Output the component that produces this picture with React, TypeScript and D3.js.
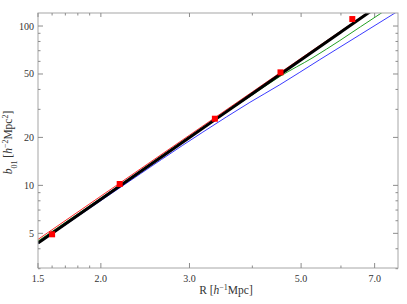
import React from "react";
import * as d3 from "d3";

const W = 407;
const H = 304;

// Tick values
const xMajor = [1.5, 2.0, 3.0, 5.0, 7.0];
const xMinor = [1.6, 1.7, 1.8, 1.9, 4.0, 6.0];
const yMajor = [5, 10, 20, 50, 100];
const yMinor = [3, 4, 6, 7, 8, 9, 30, 40, 60, 70, 80, 90];

// Curves
const lineR = [1.5, 2, 3, 4, 5, 6, 7];
const blackB = [4.35, 8.19, 19.99, 37.6, 61.5, 91.8, 128.8];
const redB = [4.58, 8.56, 20.66, 38.6, 62.8, 93.2, 130.3];

const greenR = [1.5, 2.183, 3.147, 3.956, 4.536, 5.28, 5.97, 7.22, 7.79];
const greenB = [4.47, 10.05, 22.4, 36.1, 48.2, 63.4, 81.1, 120.7, 140.0];

const blueR = [1.5, 2.183, 3.19, 3.956, 4.536, 5.45, 6.54, 7.79];
const blueB = [4.31, 9.68, 21.6, 33.2, 42.8, 61.6, 88.0, 124.0];

// Data points
const ptR = [1.6, 2.18, 3.37, 4.55, 6.32];
const ptB = [4.93, 10.2, 26.2, 51.2, 110.6];

const L = 38, R = 398, T = 13, B = 268;

export default function App() {
  const x = d3.scaleLog().domain([1.5, 7.79]).range([L, R]);
  const y = d3.scaleLog().domain([3.03, 120.7]).range([B, T]);

  const mk = (xs: number[], ys: number[]) =>
    d3
      .line<number>()
      .x((_, i) => x(xs[i]))
      .y((_, i) => y(ys[i]))
      .curve(d3.curveMonotoneX)(xs) || "";

  const frame = "#a6a6a6";
  const tickCol = "#8c8c8c";
  const font = "'Liberation Serif', 'DejaVu Serif', serif";

  return (
    <svg
      width={W}
      height={H}
      style={{ position: "absolute", left: 0, top: 0, background: "#fff" }}
    >
      <defs>
        <clipPath id="plotclip">
          <rect x={L} y={T} width={R - L} height={B - T} />
        </clipPath>
      </defs>
      <g clipPath="url(#plotclip)" fill="none">
        <path d={mk(blueR, blueB)} stroke="#3b3bff" strokeWidth={1} />
        <path d={mk(greenR, greenB)} stroke="#22a022" strokeWidth={1} />
        <path d={mk(lineR, redB)} stroke="#ff2a2a" strokeWidth={1} />
        <path d={mk(lineR, blackB)} stroke="#000" strokeWidth={3} />
      </g>
      {/* frame */}
      <rect x={L} y={T} width={R - L} height={B - T} fill="none" stroke={frame} strokeWidth={1} />
      {/* x ticks */}
      {xMajor.map((v) => (
        <g key={"xm" + v}>
          <line x1={x(v)} x2={x(v)} y1={B} y2={B - 5} stroke={tickCol} />
          <line x1={x(v)} x2={x(v)} y1={T} y2={T + 4} stroke={tickCol} />
          <text x={x(v)} y={B + 14} textAnchor="middle" fontFamily={font} fontSize={10} fill="#333">
            {v.toFixed(1)}
          </text>
        </g>
      ))}
      {xMinor.map((v) => (
        <g key={"xn" + v}>
          <line x1={x(v)} x2={x(v)} y1={B} y2={B - 2.5} stroke={tickCol} />
          <line x1={x(v)} x2={x(v)} y1={T} y2={T + 2.5} stroke={tickCol} />
        </g>
      ))}
      {/* y ticks */}
      {yMajor.map((v) => (
        <g key={"ym" + v}>
          <line x1={L} x2={L + 5} y1={y(v)} y2={y(v)} stroke={tickCol} />
          <line x1={R} x2={R - 5} y1={y(v)} y2={y(v)} stroke={tickCol} />
          <text x={L - 4} y={y(v) + 3.5} textAnchor="end" fontFamily={font} fontSize={10} fill="#333">
            {v}
          </text>
        </g>
      ))}
      {yMinor.map((v) => (
        <g key={"yn" + v}>
          <line x1={L} x2={L + 2.5} y1={y(v)} y2={y(v)} stroke={tickCol} />
          <line x1={R} x2={R - 2.5} y1={y(v)} y2={y(v)} stroke={tickCol} />
        </g>
      ))}
      {/* markers */}
      {ptR.map((v, i) => (
        <rect key={"p" + i} x={x(v) - 3} y={y(ptB[i]) - 3} width={6} height={6} fill="#ff0000" />
      ))}
      {/* axis labels */}
      <text x={226} y={294} textAnchor="middle" fontFamily={font} fontSize={11.5} fill="#333">
        R [<tspan fontStyle="italic">h</tspan>
        <tspan baselineShift="super" fontSize={8}>−1</tspan>Mpc]
      </text>
      <text
        transform={`translate(12,${(T + B) / 2 + 2}) rotate(-90)`}
        textAnchor="middle"
        fontFamily={font}
        fontSize={11.5}
        fill="#333"
      >
        <tspan fontStyle="italic">b</tspan>
        <tspan baselineShift="sub" fontSize={8}>01</tspan>
        <tspan>{"  ["}</tspan>
        <tspan fontStyle="italic">h</tspan>
        <tspan baselineShift="super" fontSize={8}>−2</tspan>
        <tspan>Mpc</tspan>
        <tspan baselineShift="super" fontSize={8}>2</tspan>
        <tspan>]</tspan>
      </text>
    </svg>
  );
}
